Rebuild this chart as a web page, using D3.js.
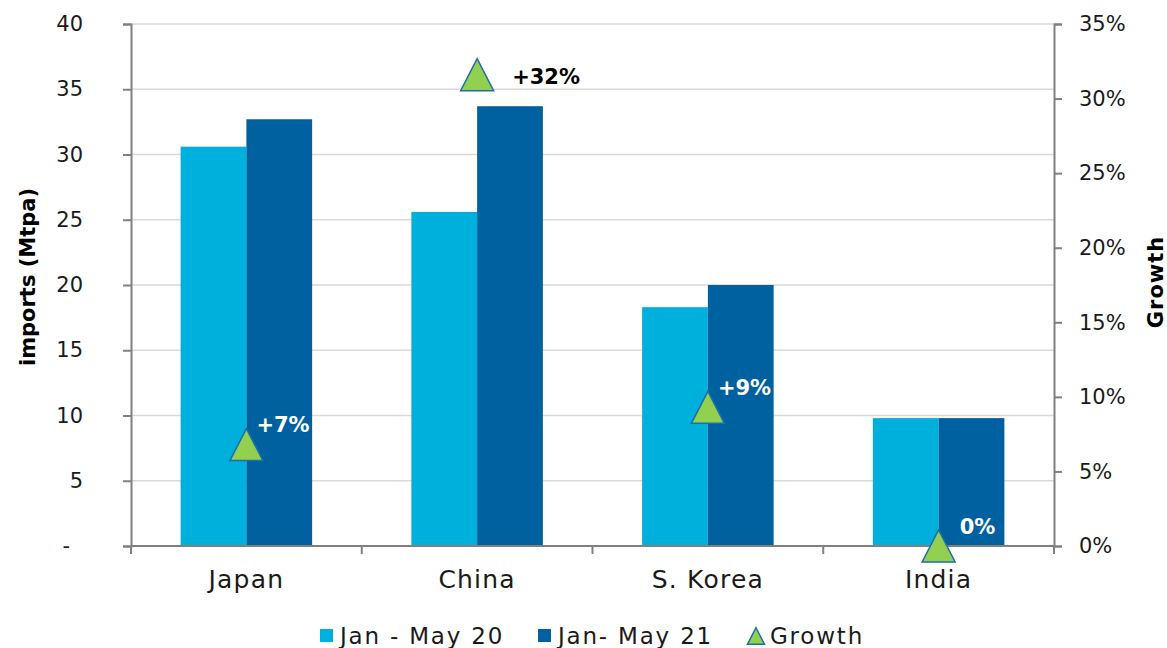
<!DOCTYPE html>
<html>
<head>
    <meta charset="utf-8">
    <title>LNG imports Jan - May</title>
    <script src="https://d3js.org/d3.v7.min.js"></script>
    <style>
        body {
            margin: 0;
            background: white;
            font-family: 'DejaVu Sans', sans-serif;
        }
        svg {
            display: block;
            font-family: 'DejaVu Sans', sans-serif;
        }
        .tick text {
            font-size: 21px;
            fill: #1a1a1a;
            font-family: 'DejaVu Sans', sans-serif;
        }
        .axis-title {
            font-size: 21px;
            font-weight: bold;
            fill: #000;
        }
    </style>
</head>
<body>
    <svg width="1167" height="648"></svg>

<script>
    // data
    let countries = ["Japan", "China", "S. Korea", "India"]
    let jan20 = [30.6, 25.6, 18.3, 9.8]
    let jan21 = [32.7, 33.7, 20.0, 9.8]
    let growth = [0.068, 0.316, 0.093, 0.0]
    let growthLabels = ["+7%", "+32%", "+9%", "0%"]
    let labelPlacement = ["topright", "right", "topright", "topright"]

    let leftTicks = [0, 5, 10, 15, 20, 25, 30, 35, 40]
    let rightTicks = [0, 0.05, 0.10, 0.15, 0.20, 0.25, 0.30, 0.35]

    let seriesNames = ["Jan - May 20", "Jan- May 21", "Growth"]
    let colors = { light: "#00b0dc", dark: "#0061a0", tri: "#92d050", triStroke: "#1f6ea8" }

    let margin = { top: 24, right: 113, bottom: 102, left: 131 }
    let width = 1167, height = 648
    let innerW = width - margin.left - margin.right
    let innerH = height - margin.top - margin.bottom

    let svg = d3.select("svg")
    let g = svg.append("g").attr("transform", `translate(${margin.left},${margin.top})`)

    let x = d3.scaleBand()
        .domain(countries)
        .range([0, innerW])
        .paddingInner(0.43)
        .paddingOuter(0.215)

    let xOuter = d3.scaleBand().domain(countries).range([0, innerW])

    let y = d3.scaleLinear().domain([0, 40]).range([innerH, 0])
    let y2 = d3.scaleLinear().domain([0, 0.35]).range([innerH, 0])

    // excel style triangle marker: about as tall as wide, centred on the value
    let excelTriangle = {
        draw(ctx, size) {
            let w = Math.sqrt(size)
            let h = w * 0.97
            ctx.moveTo(0, -h / 2)
            ctx.lineTo(w / 2, h / 2)
            ctx.lineTo(-w / 2, h / 2)
            ctx.closePath()
        }
    }

    // gridlines
    g.append("g")
        .selectAll("line")
        .data(leftTicks.filter(d => d > 0))
        .join("line")
        .attr("x1", 0)
        .attr("x2", innerW)
        .attr("y1", d => y(d))
        .attr("y2", d => y(d))
        .style("stroke", "#d9d9d9")
        .style("stroke-width", 1.5)

    // bars
    let bw = x.bandwidth() / 2
    let bars = g.append("g")
    bars.selectAll(".b20")
        .data(countries)
        .join("rect")
        .attr("class", "b20")
        .attr("x", (d, i) => x(d))
        .attr("width", bw)
        .attr("y", (d, i) => y(jan20[i]))
        .attr("height", (d, i) => innerH - y(jan20[i]))
        .style("fill", colors.light)

    bars.selectAll(".b21")
        .data(countries)
        .join("rect")
        .attr("class", "b21")
        .attr("x", (d, i) => x(d) + bw)
        .attr("width", bw)
        .attr("y", (d, i) => y(jan21[i]))
        .attr("height", (d, i) => innerH - y(jan21[i]))
        .style("fill", colors.dark)

    // left axis
    let yAxis = d3.axisLeft(y)
        .tickValues(leftTicks)
        .tickSize(8)
        .tickPadding(40)
        .tickFormat(d => d === 0 ? "-" : d)

    let ya = g.append("g").call(yAxis)
    ya.selectAll(".tick text").attr("dx", d => d === 0 ? -13 : 0).style("text-anchor", "end")

    // right axis
    let yAxis2 = d3.axisRight(y2)
        .tickValues(rightTicks)
        .tickSize(8)
        .tickPadding(17)
        .tickFormat(d => Math.round(d * 100) + "%")

    g.append("g").attr("transform", `translate(${innerW},0)`).call(yAxis2)

    // bottom axis, ticks between categories
    let xa = g.append("g").attr("transform", `translate(0,${innerH})`)
    xa.append("line")
        .attr("x1", 0).attr("x2", innerW)
        .style("stroke", "#808080").style("stroke-width", 2)

    let boundaries = countries.map(d => xOuter(d)).concat([innerW])
    xa.selectAll(".sep")
        .data(boundaries)
        .join("line")
        .attr("class", "sep")
        .attr("x1", d => d).attr("x2", d => d)
        .attr("y1", 0).attr("y2", 8)
        .style("stroke", "#808080").style("stroke-width", 2)

    xa.selectAll(".cat")
        .data(countries)
        .join("text")
        .attr("class", "cat")
        .attr("x", d => xOuter(d) + xOuter.bandwidth() / 2)
        .attr("y", 42)
        .attr("text-anchor", "middle")
        .style("font-size", "25px")
        .style("letter-spacing", "1.2px")
        .style("fill", "#1a1a1a")
        .text(d => d)

    g.selectAll(".domain").style("stroke", "#808080").style("stroke-width", 2)
    g.selectAll(".tick line").style("stroke", "#808080").style("stroke-width", 2)

    // growth markers
    let tri = d3.symbol().type(excelTriangle).size(33 * 33)
    let cx = d => x(d) + bw

    g.append("g")
        .selectAll("path")
        .data(countries)
        .join("path")
        .attr("d", tri)
        .attr("transform", (d, i) => `translate(${cx(d)},${y2(growth[i])})`)
        .style("fill", colors.tri)
        .style("stroke", colors.triStroke)
        .style("stroke-width", 1.5)

    g.append("g")
        .selectAll("text")
        .data(countries)
        .join("text")
        .attr("x", (d, i) => cx(d) + (labelPlacement[i] === "right" ? 35 : (i === 3 ? 21 : 10)))
        .attr("y", (d, i) => y2(growth[i]) + (labelPlacement[i] === "right" ? 2 : -20))
        .attr("dy", "0.36em")
        .style("font-size", "21px")
        .style("font-weight", "bold")
        .style("fill", (d, i) => y2(growth[i]) - 20 > y(jan21[i]) ? "white" : "black")
        .text((d, i) => growthLabels[i])

    // axis titles
    svg.append("text")
        .attr("class", "axis-title")
        .attr("transform", `translate(35,277) rotate(-90)`)
        .attr("text-anchor", "middle")
        .text("imports (Mtpa)")

    svg.append("text")
        .attr("class", "axis-title")
        .attr("transform", `translate(1163,282) rotate(-90)`)
        .attr("text-anchor", "middle")
        .style("letter-spacing", "1px")
        .text("Growth")

    // legend
    let legend = svg.append("g").attr("transform", "translate(320,636)")
    let legX = [0, 218, 428]
    seriesNames.forEach((name, i) => {
        let lg = legend.append("g").attr("transform", `translate(${legX[i]},0)`)
        if (i < 2) {
            lg.append("rect")
                .attr("x", 0).attr("y", -7)
                .attr("width", 13).attr("height", 13)
                .style("fill", i === 0 ? colors.light : colors.dark)
        } else {
            lg.append("path")
                .attr("d", d3.symbol().type(excelTriangle).size(17 * 17))
                .attr("transform", "translate(8,0)")
                .style("fill", colors.tri)
                .style("stroke", colors.triStroke)
                .style("stroke-width", 1.5)
        }
        lg.append("text")
            .attr("x", i < 2 ? 20 : 22)
            .attr("y", 0)
            .attr("dy", "0.36em")
            .style("font-size", "23px")
            .style("letter-spacing", "1.8px")
            .style("fill", "#1a1a1a")
            .text(name)
    })
</script>
</body>
</html>
